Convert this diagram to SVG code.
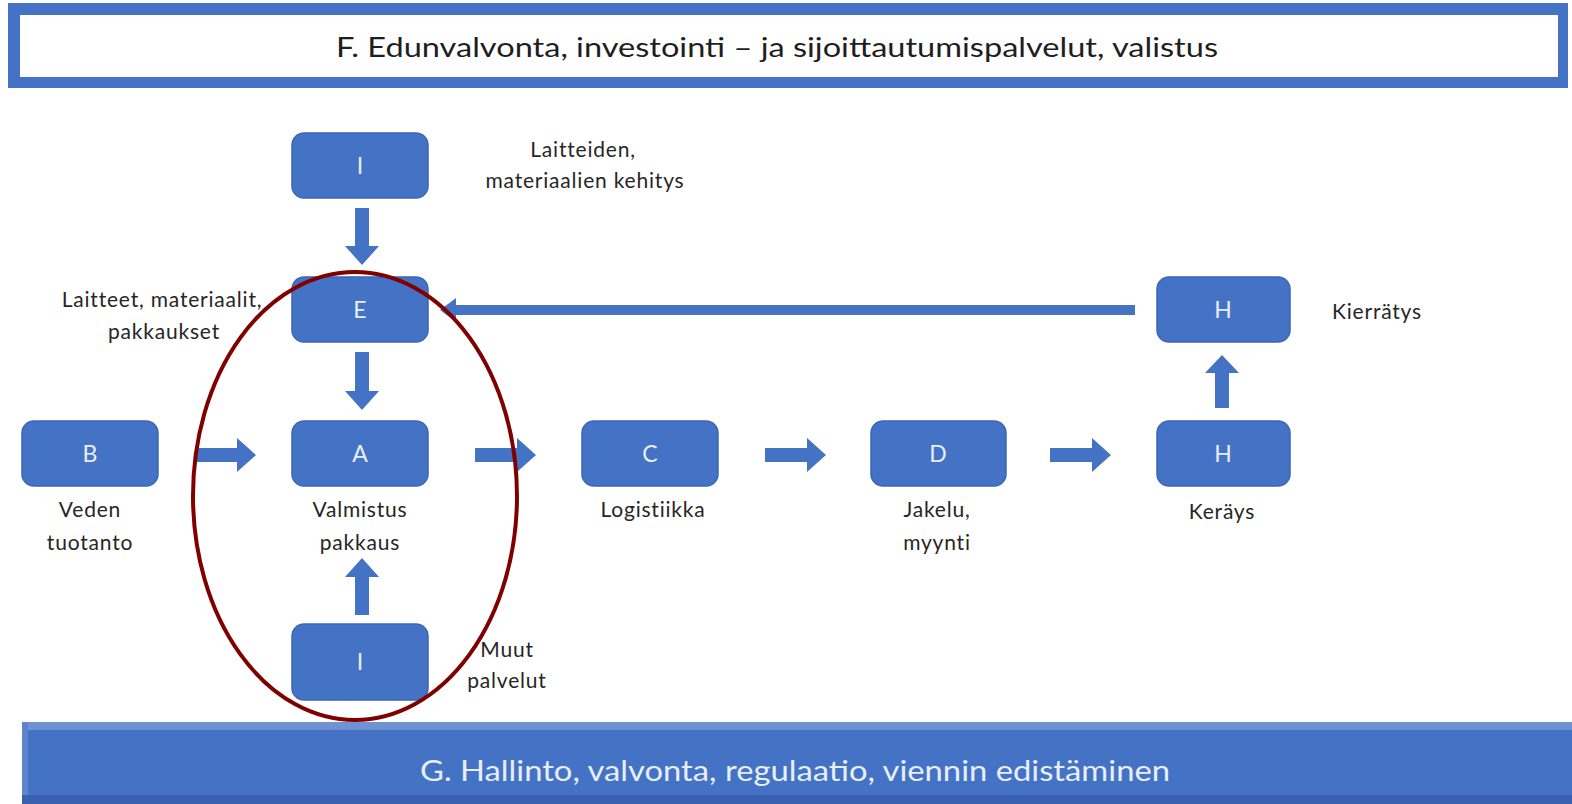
<svg xmlns="http://www.w3.org/2000/svg" width="1572" height="804" viewBox="0 0 1572 804">
<style>
.box{fill:#4472C4;stroke:#3A66B5;stroke-width:1.5}
.bl{font-family:Lato,"Open Sans",sans-serif;font-size:23px;fill:#E8EEF8;text-anchor:middle}
.lb{font-family:Lato,"Open Sans",sans-serif;font-size:21px;letter-spacing:0.8px;fill:#262626;text-anchor:middle}
.arr{fill:#4472C4}
</style>
<rect width="1572" height="804" fill="#ffffff"/>
<g id="banner-F">
<rect x="8" y="3" width="1560" height="85" fill="#4472C4"/>
<rect x="20" y="15" width="1538" height="62" fill="#ffffff"/>
<text x="777" y="57" font-family="Lato,'Open Sans',sans-serif" font-size="27" fill="#1E1E1E" text-anchor="middle" textLength="882" lengthAdjust="spacingAndGlyphs">F. Edunvalvonta, investointi – ja sijoittautumispalvelut, valistus</text>
</g>
<g id="banner-G">
<rect x="22" y="722" width="1550" height="82" fill="#4472C4"/>
<rect x="22" y="722" width="1550" height="8" fill="#6F92D2"/>
<rect x="22" y="722" width="6" height="82" fill="#5E84CC"/>
<rect x="22" y="795" width="1550" height="9" fill="#3860AE"/>
<text x="795" y="781" font-family="Lato,'Open Sans',sans-serif" font-size="28" fill="#E8EEF8" text-anchor="middle" textLength="750" lengthAdjust="spacingAndGlyphs">G. Hallinto, valvonta, regulaatio, viennin edistäminen</text>
</g>
<g id="connectors">
<polygon class="arr" points="355,208 369,208 369,246 379,246 362,265 345,246 355,246"/>
<polygon class="arr" points="355,352 369,352 369,391 379,391 362,410 345,391 355,391"/>
<polygon class="arr" points="355,615 369,615 369,577 379,577 362,558 345,577 355,577"/>
<polygon class="arr" points="1215,408 1229,408 1229,373 1239,373 1222,355 1205,373 1215,373"/>
<polygon class="arr" points="195,448 237,448 237,438 256,455 237,472 237,462 195,462"/>
<polygon class="arr" points="475,448 517,448 517,438 536,455 517,472 517,462 475,462"/>
<polygon class="arr" points="765,448 807,448 807,438 826,455 807,472 807,462 765,462"/>
<polygon class="arr" points="1050,448 1092,448 1092,438 1111,455 1092,472 1092,462 1050,462"/>
<polygon class="arr" points="1135,305 456,305 456,298 440,310 456,322 456,315 1135,315"/>
</g>
<g id="node-I-top"><rect class="box" x="292" y="133" width="136" height="65" rx="12"/><text class="bl" x="360" y="174">I</text></g>
<g id="node-E"><rect class="box" x="292" y="277" width="136" height="65" rx="12"/><text class="bl" x="360" y="318">E</text></g>
<g id="node-A"><rect class="box" x="292" y="421" width="136" height="65" rx="12"/><text class="bl" x="360" y="462">A</text></g>
<g id="node-I-bottom"><rect class="box" x="292" y="624" width="136" height="76" rx="12"/><text class="bl" x="360" y="670">I</text></g>
<g id="node-B"><rect class="box" x="22" y="421" width="136" height="65" rx="12"/><text class="bl" x="90" y="462">B</text></g>
<g id="node-C"><rect class="box" x="582" y="421" width="136" height="65" rx="12"/><text class="bl" x="650" y="462">C</text></g>
<g id="node-D"><rect class="box" x="871" y="421" width="135" height="65" rx="12"/><text class="bl" x="938" y="462">D</text></g>
<g id="node-H-lower"><rect class="box" x="1157" y="421" width="133" height="65" rx="12"/><text class="bl" x="1223" y="462">H</text></g>
<g id="node-H-upper"><rect class="box" x="1157" y="277" width="133" height="65" rx="12"/><text class="bl" x="1223" y="318">H</text></g>
<g id="labels">
<text class="lb" x="583" y="157">Laitteiden,</text>
<text class="lb" x="585" y="188">materiaalien  kehitys</text>
<text class="lb" x="162" y="307">Laitteet, materiaalit,</text>
<text class="lb" x="164" y="339">pakkaukset</text>
<text class="lb" x="90" y="517">Veden</text>
<text class="lb" x="90" y="550">tuotanto</text>
<text class="lb" x="360" y="517">Valmistus</text>
<text class="lb" x="360" y="550">pakkaus</text>
<text class="lb" x="653" y="517">Logistiikka</text>
<text class="lb" x="937" y="517">Jakelu,</text>
<text class="lb" x="937" y="550">myynti</text>
<text class="lb" x="1222" y="519">Keräys</text>
<text class="lb" x="1377" y="319">Kierrätys</text>
<text class="lb" x="507" y="657">Muut</text>
<text class="lb" x="507" y="688">palvelut</text>
</g>
<g id="highlight">
<ellipse cx="355" cy="496" rx="162" ry="224" fill="none" stroke="#800000" stroke-width="4"/>
</g>
</svg>
